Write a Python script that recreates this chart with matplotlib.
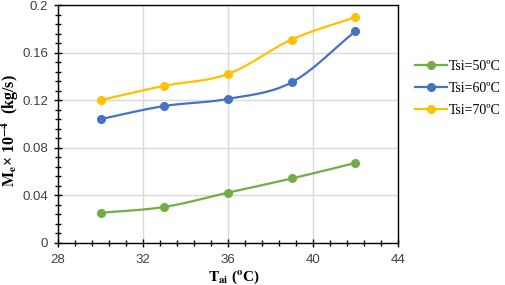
import numpy as np
import matplotlib
matplotlib.use("Agg")
import matplotlib.pyplot as plt
from matplotlib.ticker import MultipleLocator

plt.rcParams['mathtext.fontset'] = 'stix'
plt.rcParams['font.family'] = ['Liberation Sans', 'DejaVu Sans']

t_ai = [30, 33, 36, 39, 42]
tsi50 = [0.025, 0.030, 0.042, 0.054, 0.067]
tsi60 = [0.104, 0.115, 0.121, 0.135, 0.178]
tsi70 = [0.120, 0.132, 0.142, 0.171, 0.190]
labels = ["Tsi=50ºC", "Tsi=60ºC", "Tsi=70ºC"]
colors = ["#70AD47", "#4472C4", "#FFC000"]
yticks = [0, 0.04, 0.08, 0.12, 0.16, 0.2]
yticklabels = ["0", "0.04", "0.08", "0.12", "0.16", "0.2"]


def smooth(x, y, n=30):
    # Catmull-Rom spline through the points (Excel-like smoothed line)
    x = np.asarray(x, float); y = np.asarray(y, float)
    px = np.concatenate([[2 * x[0] - x[1]], x, [2 * x[-1] - x[-2]]])
    py = np.concatenate([[2 * y[0] - y[1]], y, [2 * y[-1] - y[-2]]])
    xs, ys = [], []
    t = np.linspace(0, 1, n)
    for i in range(1, len(px) - 2):
        for p, out in ((px, xs), (py, ys)):
            p0, p1, p2, p3 = p[i - 1], p[i], p[i + 1], p[i + 2]
            out.extend(0.5 * ((2 * p1) + (-p0 + p2) * t
                              + (2 * p0 - 5 * p1 + 4 * p2 - p3) * t ** 2
                              + (-p0 + 3 * p1 - 3 * p2 + p3) * t ** 3))
    return np.array(xs), np.array(ys)


fig = plt.figure(figsize=(5.05, 2.85), dpi=100)
ax = fig.add_axes([0.115, 0.149, 0.673, 0.833])

for ys, lab, c in zip([tsi50, tsi60, tsi70], labels, colors):
    sx, sy = smooth(t_ai, ys)
    ax.plot(sx, sy, color=c, lw=1.6, zorder=3)
    ax.plot(t_ai, ys, 'o', color=c, ms=5.5, zorder=4)
    ax.plot([], [], '-o', color=c, lw=1.6, ms=5.5, label=lab)

ax.set_xlim(28, 44)
ax.set_ylim(0, 0.2)
ax.xaxis.set_major_locator(MultipleLocator(4))
ax.xaxis.set_minor_locator(MultipleLocator(0.8))
ax.set_yticks(yticks)
ax.set_yticklabels(yticklabels)
ax.yaxis.set_minor_locator(MultipleLocator(0.008))
ax.tick_params(which='both', direction='inout', length=6, width=1, labelsize=9.5,
               colors='black', labelcolor='#404040')
ax.tick_params(which='minor', length=5)
ax.tick_params(axis='x', pad=5)
ax.tick_params(axis='y', pad=4)
ax.grid(True, which='major', color='#D9D9D9', lw=1, zorder=0)
for s in ax.spines.values():
    s.set_color('black'); s.set_linewidth(1)

ax.set_xlabel(r"$\mathbf{T_{ai}}$ ($\mathbf{^{o}}$C)", fontsize=11, fontweight='bold',
              family='Liberation Serif')
ax.xaxis.set_label_coords(0.518, -0.11)
ax.set_ylabel(r"$\mathbf{M_e}$× 10$^{\mathbf{-4}}$  (kg/s)", fontsize=11.5, fontweight='bold',
              family='Liberation Serif')
ax.yaxis.set_label_coords(-0.11, 0.47)

leg = ax.legend(loc='upper left', bbox_to_anchor=(1.05, 0.77), frameon=False,
                borderaxespad=0, borderpad=0,
                prop={'family': 'Liberation Serif', 'size': 10}, handlelength=2.3,
                handletextpad=0.15, labelspacing=0.65)

fig.savefig("out.png", dpi=100)
